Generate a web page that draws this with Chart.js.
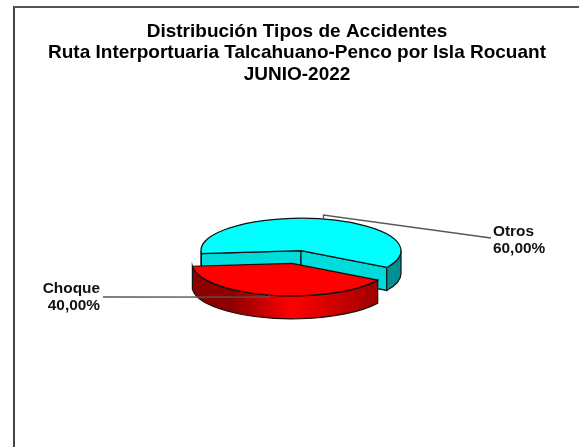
<!DOCTYPE html>
<html>
<head>
<meta charset="utf-8">
<script src="https://cdn.jsdelivr.net/npm/chart.js@4"></script>
<style>
    html, body { margin: 0; padding: 0; background: #fff; overflow: hidden; }
    #frame { position: absolute; left: 13px; top: 6px; width: 566px; height: 441px; box-sizing: border-box;
             border-left: 2px solid #444; border-top: 2px solid #555; }
    canvas { display: block; }
</style>
</head>
<body>
<div id="frame"><canvas id="pieChart" width="564" height="439"></canvas></div>
<script>
const categories = ['Otros', 'Choque'];
const values = [60, 40];
const explode = [0, 40];
const titleLines = [
    'Distribución Tipos de Accidentes',
    'Ruta Interportuaria Talcahuano-Penco por Isla Rocuant',
    'JUNIO-2022'
];
const topColors = ['#00ffff', '#ff0000'];
const faceColors = ['#00dcdc', '#c00000'];
const wallEdge = ['#008e8e', '#8e0000'];
const wallMid = ['#00b4b4', '#ff0000'];

const squash = 0.325;
const depth = 23;
const centerShift = 4;
const font = 'bold 15.4px "Liberation Sans", Arial, sans-serif';

// where each callout text sits, same order as categories
const callouts = [
    { x: 478, y: 224, align: 'left', lineX: 476, lineY: 230, rise: -4 },
    { x: 85, y: 281, align: 'right', lineX: 88, lineY: 289, rise: 2 }
];

function sliceGeometry(el, base) {
    return {
        cx: el.x,
        cy: base.y + (el.y - base.y) * squash,
        rx: el.outerRadius,
        ry: el.outerRadius * squash,
        mid: (el.startAngle + el.endAngle) / 2
    };
}

function pointAt(g, angle) {
    return [g.cx + Math.cos(angle) * g.rx, g.cy + Math.sin(angle) * g.ry];
}

function drawFace(ctx, g, angle, color) {
    const p = pointAt(g, angle);
    ctx.beginPath();
    ctx.moveTo(g.cx, g.cy);
    ctx.lineTo(p[0], p[1]);
    ctx.lineTo(p[0], p[1] + depth);
    ctx.lineTo(g.cx, g.cy + depth);
    ctx.closePath();
    ctx.fillStyle = color;
    ctx.fill();
    ctx.stroke();
}

function drawOuterWall(ctx, g, from, to, i) {
    if (to <= from) return;
    const grad = ctx.createLinearGradient(g.cx - g.rx, 0, g.cx + g.rx, 0);
    grad.addColorStop(0, wallEdge[i]);
    grad.addColorStop(0.2, wallEdge[i]);
    grad.addColorStop(0.5, wallMid[i]);
    grad.addColorStop(1, wallEdge[i]);
    ctx.beginPath();
    ctx.ellipse(g.cx, g.cy, g.rx, g.ry, 0, from, to);
    ctx.ellipse(g.cx, g.cy + depth, g.rx, g.ry, 0, to, from, true);
    ctx.closePath();
    ctx.fillStyle = grad;
    ctx.fill();
    ctx.stroke();
}

const pie3d = {
    id: 'pie3d',
    afterDatasetsUpdate(chart) {
        // the arc's own offset option also grows the radius, so pull the slice out by hand
        chart.getDatasetMeta(0).data.forEach((el, i) => {
            const mid = (el.startAngle + el.endAngle) / 2;
            el.x += centerShift + Math.cos(mid) * explode[i];
            el.y += Math.sin(mid) * explode[i];
        });
    },
    beforeDatasetsDraw(chart) {
        const ctx = chart.ctx;
        const arcs = chart.getDatasetMeta(0).data;
        const base = arcs[0];
        ctx.save();
        ctx.strokeStyle = '#111';
        ctx.lineWidth = 1.2;
        arcs.forEach((el, i) => {
            const g = sliceGeometry(el, base);
            const full = Math.PI * 2;
            const start = el.startAngle;
            const end = el.endAngle;
            // only what faces the viewer: the cut faces of the back slice and the front rim
            if (i === 0) {
                drawFace(ctx, g, start, faceColors[i]);
                drawFace(ctx, g, end, faceColors[i]);
            }
            drawOuterWall(ctx, g, Math.max(start, 0), Math.min(end, Math.PI), i);
            drawOuterWall(ctx, g, Math.max(start, full), Math.min(end, full + Math.PI), i);
        });
        ctx.restore();

        ctx.save();
        ctx.translate(base.x, base.y);
        ctx.scale(1, squash);
        ctx.translate(-base.x, -base.y);
    },
    afterDatasetsDraw(chart) {
        const ctx = chart.ctx;
        ctx.restore();
        const arcs = chart.getDatasetMeta(0).data;
        const total = values.reduce((sum, v) => sum + v, 0);
        arcs.forEach((el, i) => {
            const g = sliceGeometry(el, arcs[0]);
            const start = pointAt(g, el.startAngle);
            ctx.save();
            ctx.strokeStyle = '#111';
            ctx.lineWidth = 1.2;
            ctx.beginPath();
            ctx.moveTo(g.cx, g.cy);
            ctx.lineTo(start[0], start[1]);
            ctx.ellipse(g.cx, g.cy, g.rx, g.ry, 0, el.startAngle, el.endAngle);
            ctx.closePath();
            ctx.stroke();

            const c = callouts[i];
            const tip = pointAt(g, g.mid);
            ctx.strokeStyle = '#555';
            ctx.lineWidth = 1.3;
            ctx.beginPath();
            ctx.moveTo(c.lineX, c.lineY);
            ctx.lineTo(tip[0], tip[1] + c.rise);
            ctx.lineTo(tip[0], tip[1]);
            ctx.stroke();

            const pct = (values[i] / total * 100).toFixed(2).replace('.', ',') + '%';
            ctx.font = font;
            ctx.fillStyle = '#111';
            ctx.textAlign = c.align;
            ctx.textBaseline = 'middle';
            ctx.fillText(categories[i], c.x, c.y);
            ctx.fillText(pct, c.x, c.y + 17);
            ctx.restore();
        });
    }
};

new Chart(document.getElementById('pieChart'), {
    type: 'pie',
    data: {
        labels: categories,
        datasets: [{
            data: values,
            backgroundColor: topColors,
            borderWidth: 0,
            radius: 100
        }]
    },
    options: {
        responsive: false,
        animation: false,
        rotation: 265,
        layout: { padding: { bottom: 39 } },
        plugins: {
            legend: { display: false },
            tooltip: { enabled: false },
            title: {
                display: true,
                text: titleLines,
                color: '#000',
                padding: { top: 13, bottom: 8 },
                font: { family: '"Liberation Sans", Arial, sans-serif', size: 19, weight: 'bold', lineHeight: 1.13 }
            }
        }
    },
    plugins: [pie3d]
});
</script>
</body>
</html>
